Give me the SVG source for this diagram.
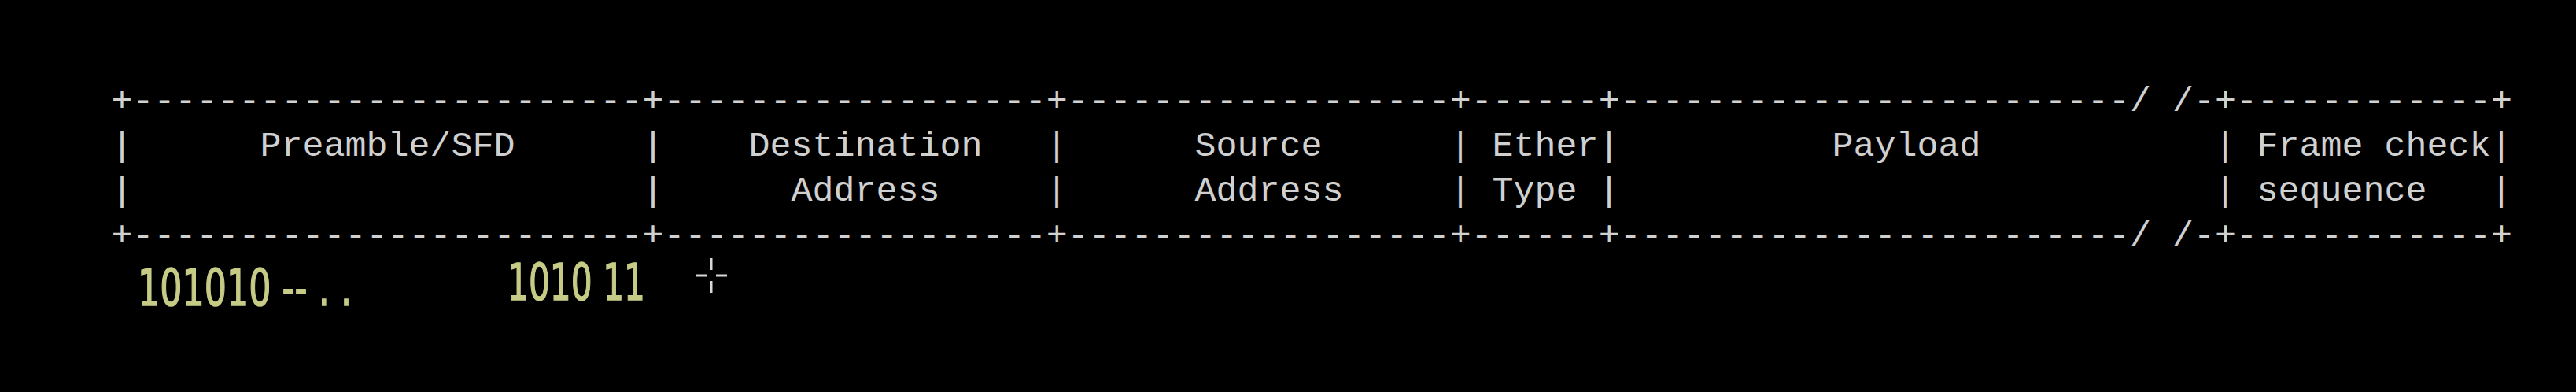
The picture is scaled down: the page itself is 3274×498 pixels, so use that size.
<svg xmlns="http://www.w3.org/2000/svg" width="3274" height="498" viewBox="0 0 3274 498">
<style>
.t{font-family:"Liberation Mono","Courier New",monospace;font-size:45px;fill:#d0d0d0;white-space:pre}
.h{font-family:"DejaVu Sans","Liberation Sans",sans-serif;font-size:64px;fill:#c6cb86;stroke:#c6cb86;stroke-width:1.5}
.cur{stroke:#d8d8d8;stroke-width:3}
</style>
<rect x="0" y="0" width="3274" height="498" fill="#000"/>
<g id="borders">
<text class="t" x="141.5" y="141" xml:space="preserve">+------------------------+------------------+------------------+------+------------------------/ /-+------------+</text>
<text class="t" x="141.5" y="312" xml:space="preserve">+------------------------+------------------+------------------+------+------------------------/ /-+------------+</text>
</g>
<g id="separators">
<text class="t" x="141.5" y="198">|</text><text class="t" x="141.5" y="255">|</text>
<text class="t" x="816.5" y="198">|</text><text class="t" x="816.5" y="255">|</text>
<text class="t" x="1329.5" y="198">|</text><text class="t" x="1329.5" y="255">|</text>
<text class="t" x="1842.5" y="198">|</text><text class="t" x="1842.5" y="255">|</text>
<text class="t" x="2031.5" y="198">|</text><text class="t" x="2031.5" y="255">|</text>
<text class="t" x="2814.5" y="198">|</text><text class="t" x="2814.5" y="255">|</text>
<text class="t" x="3165.5" y="198">|</text><text class="t" x="3165.5" y="255">|</text>
</g>
<g id="field-preamble"><text class="t" x="330.5" y="198">Preamble/SFD</text></g>
<g id="field-destination"><text class="t" x="951.5" y="198">Destination</text><text class="t" x="1005.5" y="255">Address</text></g>
<g id="field-source"><text class="t" x="1518.5" y="198">Source</text><text class="t" x="1518.5" y="255">Address</text></g>
<g id="field-ethertype"><text class="t" x="1896.5" y="198">Ether</text><text class="t" x="1896.5" y="255">Type</text></g>
<g id="field-payload"><text class="t" x="2328.5" y="198">Payload</text></g>
<g id="field-fcs"><text class="t" x="2868.5" y="198">Frame check</text><text class="t" x="2868.5" y="255">sequence</text></g>
<g id="annotations">
<text class="h" x="175" y="388" textLength="272" lengthAdjust="spacingAndGlyphs" xml:space="preserve">101010 -- . .</text>
<text class="h" x="645" y="381" textLength="175" lengthAdjust="spacingAndGlyphs" xml:space="preserve">1010 11</text>
</g>
<g id="cursor">
<line class="cur" x1="884" y1="350" x2="898" y2="350"/>
<line class="cur" x1="910" y1="350" x2="924" y2="350"/>
<line class="cur" x1="904" y1="328" x2="904" y2="343"/>
<line class="cur" x1="904" y1="357" x2="904" y2="372"/>
</g>
</svg>
